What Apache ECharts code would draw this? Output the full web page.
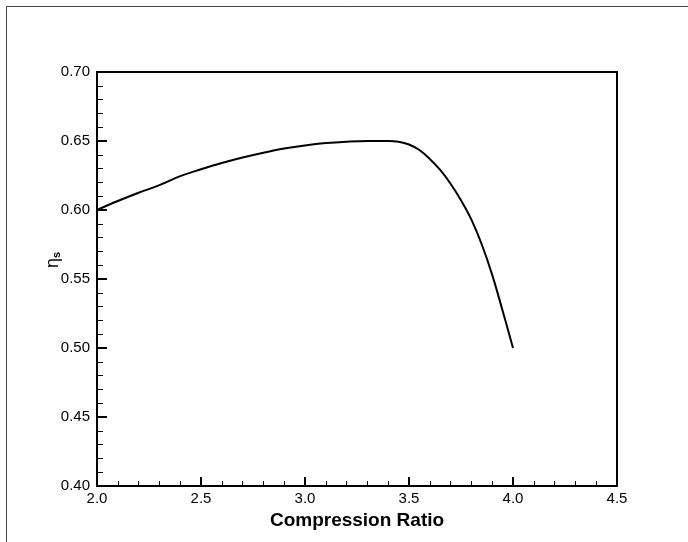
<!DOCTYPE html>
<html>
<head>
<meta charset="utf-8">
<script src="https://cdn.jsdelivr.net/npm/echarts@6/dist/echarts.min.js"></script>
<style>html,body{margin:0;padding:0;background:#fff}#c{width:688px;height:542px}</style>
</head>
<body>
<div id="c"></div>
<script>
const compressionRatio = [2.0, 2.1, 2.2, 2.3, 2.4, 2.5, 2.6, 2.7, 2.8, 2.9, 3.0, 3.1, 3.2, 3.3, 3.4, 3.45, 3.5, 3.55, 3.6, 3.65, 3.7, 3.75, 3.8, 3.85, 3.9, 3.95, 4.0];
const efficiency = [0.600, 0.6065, 0.6125, 0.618, 0.6245, 0.6295, 0.634, 0.638, 0.6415, 0.6445, 0.6468, 0.6485, 0.6495, 0.650, 0.650, 0.6495, 0.6475, 0.6435, 0.637, 0.629, 0.619, 0.607, 0.593, 0.575, 0.553, 0.527, 0.500];
const xTitle = 'Compression Ratio';

const chart = echarts.init(document.getElementById('c'), null, {renderer: 'canvas'});
const font = '"Liberation Sans", Arial, sans-serif';
chart.setOption({
  animation: false,
  backgroundColor: '#fff',
  grid: {left: 97, right: 71, top: 72, bottom: 56, show: true, borderColor: '#000', borderWidth: 2, backgroundColor: 'transparent'},
  xAxis: {
    type: 'value', min: 2, max: 4.5, interval: 0.5,
    name: xTitle, nameLocation: 'middle', nameGap: 23,
    nameTextStyle: {fontFamily: font, fontWeight: 'bold', fontSize: 19, color: '#000'},
    axisLine: {lineStyle: {color: '#000', width: 2}},
    axisTick: {inside: true, length: 9, lineStyle: {color: '#000', width: 2}},
    minorTick: {show: true, splitNumber: 5, length: 5, lineStyle: {color: '#000', width: 1}},
    splitLine: {show: false},
    axisLabel: {formatter: v => v.toFixed(1), fontFamily: font, fontSize: 15, color: '#000', margin: 5}
  },
  yAxis: {
    type: 'value', min: 0.4, max: 0.7, interval: 0.05,
    axisLine: {lineStyle: {color: '#000', width: 2}},
    axisTick: {inside: true, length: 10, lineStyle: {color: '#000', width: 2}},
    minorTick: {show: true, splitNumber: 5, length: 6, lineStyle: {color: '#000', width: 1}},
    splitLine: {show: false},
    axisLabel: {formatter: v => v.toFixed(2), fontFamily: font, fontSize: 15, color: '#000', margin: 7}
  },
  graphic: [
    {type: 'rect', shape: {x: 6.5, y: 6.5, width: 800, height: 700}, style: {fill: 'none', stroke: '#444', lineWidth: 1}, silent: true},
    {type: 'text', x: 53, y: 260, rotation: Math.PI / 2,
     style: {text: '{a|η}{b|s}', align: 'center', verticalAlign: 'middle',
       rich: {a: {fontFamily: font, fontSize: 18, fill: '#000'}, b: {fontFamily: font, fontSize: 11, fontWeight: 'bold', fill: '#000', verticalAlign: 'bottom', padding: [6, 0, 0, 0]}}}}
  ],
  series: [{
    type: 'line', data: compressionRatio.map((x, i) => [x, efficiency[i]]),
    smooth: 0.4, showSymbol: false, symbol: 'none',
    lineStyle: {color: '#000', width: 2}
  }]
});
</script>
</body>
</html>
